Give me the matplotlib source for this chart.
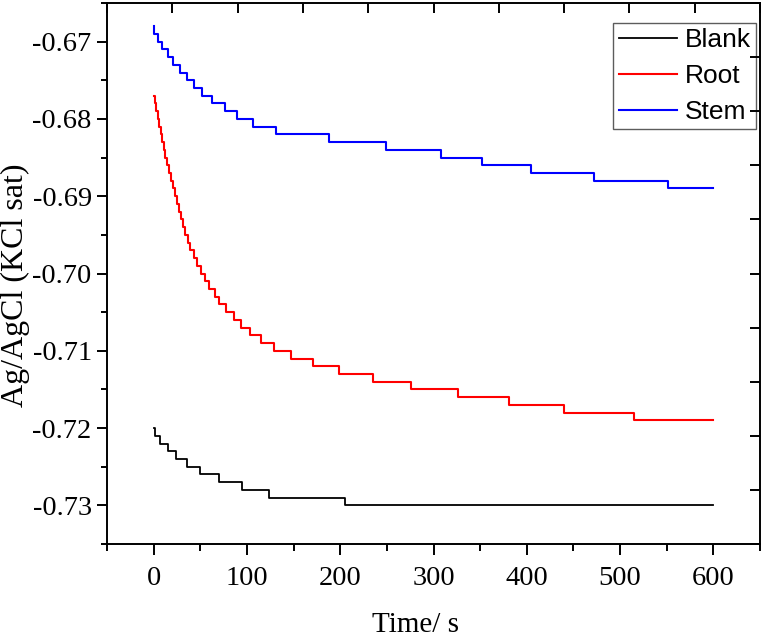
import matplotlib
matplotlib.use("Agg")
import matplotlib.pyplot as plt
import numpy as np

plt.rcParams['axes.unicode_minus'] = False

# Step data: time (s) where each new potential level starts, and the level (V)
blank_t = [0, 1, 7, 15, 24, 36, 50, 70, 95, 124, 205, 600]
blank_v = [-0.720, -0.721, -0.722, -0.723, -0.724, -0.725, -0.726, -0.727, -0.728, -0.729, -0.730, -0.730]

root_t = [0, 1.1, 2.6, 4.3, 5.8, 7.5, 9.0, 10.7, 12.5, 14.4, 16.1, 18.2, 20.4, 22.5, 24.6,
          26.8, 29.3, 31.4, 34.0, 36.8, 39.3, 42.9, 46.4, 51.1, 55.4, 59.7, 65.4, 70.4, 77.5,
          85.7, 93.6, 103.6, 115.4, 129.3, 147.5, 170.8, 198.2, 234.7, 276, 326, 381.4,
          440.4, 515.4, 600]
root_v = [-0.677, -0.678, -0.679, -0.680, -0.681, -0.682, -0.683, -0.684, -0.685, -0.686,
          -0.687, -0.688, -0.689, -0.690, -0.691, -0.692, -0.693, -0.694, -0.695, -0.696,
          -0.697, -0.698, -0.699, -0.700, -0.701, -0.702, -0.703, -0.704, -0.705, -0.706,
          -0.707, -0.708, -0.709, -0.710, -0.711, -0.712, -0.713, -0.714, -0.715, -0.716,
          -0.717, -0.718, -0.719, -0.719]

stem_t = [0, 0.5, 4.7, 9, 15, 21, 28, 36, 43, 52, 63, 76, 89, 106, 131, 188, 249, 308,
          352, 404, 472, 551, 600]
stem_v = [-0.668, -0.669, -0.670, -0.671, -0.672, -0.673, -0.674, -0.675, -0.676, -0.677,
          -0.678, -0.679, -0.680, -0.681, -0.682, -0.683, -0.684, -0.685, -0.686, -0.687,
          -0.688, -0.689, -0.689]

x_ticks = [0, 100, 200, 300, 400, 500, 600]
y_ticks = [-0.73, -0.72, -0.71, -0.70, -0.69, -0.68, -0.67]

serif = 'Liberation Serif'

fig = plt.figure(figsize=(7.64, 6.39), dpi=100)
pos = [107/764, 1-544/639, (760-107)/764, (544-3)/639]
ax = fig.add_axes(pos)

ax.plot(blank_t, blank_v, drawstyle='steps-post', color='black', lw=1.3, label='Blank')
ax.plot(root_t, root_v, drawstyle='steps-post', color='#ff0000', lw=1.5, label='Root')
ax.plot(stem_t, stem_v, drawstyle='steps-post', color='#0000ff', lw=1.5, label='Stem')

ax.set_xlim(-50, 650)
ax.set_ylim(-0.735, -0.665)
ax.set_xticks(x_ticks)
ax.set_xticks(np.arange(-50, 651, 50), minor=True)
ax.set_yticks(y_ticks)
ax.set_yticklabels(['%.2f' % v for v in y_ticks])
ax.set_yticks(np.arange(-0.735, -0.6649, 0.005), minor=True)

for s in ax.spines.values():
    s.set_linewidth(1.4)
ax.tick_params(which='both', direction='out', top=False, right=False, width=1.4)
ax.tick_params(axis='x', which='major', length=8, pad=8)
ax.tick_params(axis='x', which='minor', length=5)
ax.tick_params(axis='y', which='major', length=7, pad=4)
ax.tick_params(axis='y', which='minor', length=4)
for lab in ax.get_xticklabels() + ax.get_yticklabels():
    lab.set_fontfamily(serif)
    lab.set_fontsize(20.5)

ax.set_xlabel('Time/ s', fontfamily=serif, fontsize=21)
ax.set_ylabel('Ag/AgCl (KCl sat)', fontfamily=serif, fontsize=23)
ax.xaxis.set_label_coords(0.472, -0.126)
ax.yaxis.set_label_coords(-0.118, 0.479)

# top / right axis ticks (evenly spaced, pointing in)
ax2 = fig.add_axes(pos, frameon=False)
ax2.set_xlim(0, 10)
ax2.set_ylim(0, 10)
ax2.set_xticks(range(11))
ax2.set_yticks(range(11))
ax2.tick_params(direction='in', length=7, width=1.4, top=True, right=True, bottom=False,
                left=False, labelbottom=False, labelleft=False)
ax2.patch.set_visible(False)

leg = ax.legend(loc='upper right', bbox_to_anchor=(756/764, 1-23/639), bbox_transform=fig.transFigure,
                prop={'family': 'Liberation Sans', 'size': 19}, fancybox=False, edgecolor='#333333',
                handlelength=2.2, handletextpad=0.3, labelspacing=0.45, borderpad=0.2,
                borderaxespad=0)
leg.get_frame().set_linewidth(1.0)

fig.savefig('out.png', dpi=100)
